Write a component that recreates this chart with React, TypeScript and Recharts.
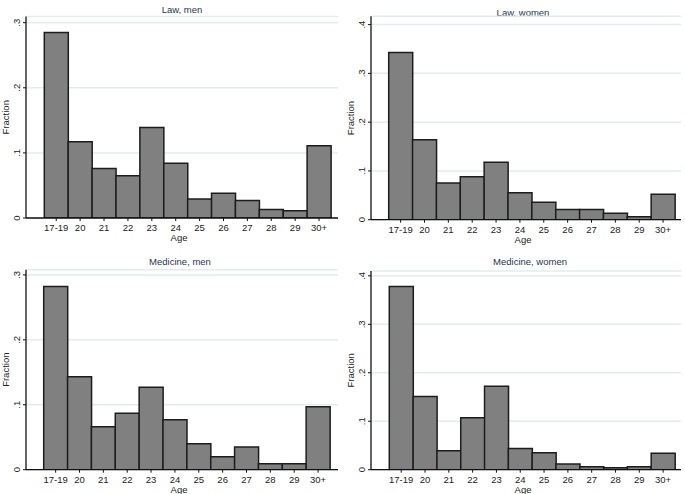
import { BarChart, Bar, XAxis, YAxis, CartesianGrid } from "recharts";

const ageLabels = ["17-19", "20", "21", "22", "23", "24", "25", "26", "27", "28", "29", "30+"];

const lawMen = [0.285, 0.117, 0.076, 0.065, 0.139, 0.084, 0.029, 0.038, 0.027, 0.013, 0.011, 0.111];
const lawWomen = [0.343, 0.164, 0.075, 0.088, 0.118, 0.055, 0.036, 0.021, 0.021, 0.013, 0.006, 0.052];
const medMen = [0.282, 0.143, 0.066, 0.087, 0.127, 0.077, 0.04, 0.02, 0.035, 0.009, 0.009, 0.097];
const medWomen = [0.378, 0.151, 0.039, 0.107, 0.172, 0.044, 0.035, 0.012, 0.006, 0.004, 0.006, 0.034];

const ticks3 = [0, 0.1, 0.2, 0.3];
const ticks4 = [0, 0.1, 0.2, 0.3, 0.4];

const FONT = "'Liberation Sans', Arial, sans-serif";
const BAR_FILL = "#808080";
const BAR_STROKE = "#1c1c1c";
const GRID = "#e3eced";

const fmtTick = (v: number) => (v === 0 ? "0" : "." + Math.round(v * 10));

const XTick = ({ x, y, payload }: any) => (
  <text x={x} y={y} dy={10} textAnchor="middle" fontSize={9.5} fill="#222" fontFamily={FONT}>
    {payload.value}
  </text>
);

const YTick = ({ x, y, payload }: any) => (
  <text
    x={x - 3}
    y={y}
    textAnchor="middle"
    fontSize={9.5}
    fill="#222"
    fontFamily={FONT}
    transform={`rotate(-90, ${x - 3}, ${y})`}
  >
    {fmtTick(payload.value)}
  </text>
);

interface PanelProps {
  title: string;
  values: number[];
  left: number;
  top: number;
  yWidth: number;
  plotTop: number;
  xHeight: number;
  right: number;
  yMax: number;
  ticks: number[];
  padL: number;
  padR: number;
  titleX: number;
  titleY: number;
  fracX: number;
}

const Panel = (p: PanelProps) => {
  const data = ageLabels.map((age, i) => ({ age, value: p.values[i] }));
  return (
    <div style={{ position: "absolute", left: p.left, top: p.top, width: 345, height: 247 }}>
      <div
        style={{
          position: "absolute",
          left: p.titleX,
          top: p.titleY,
          transform: "translate(-50%, -50%)",
          fontFamily: FONT,
          fontSize: 9.5,
          color: "#263553",
          whiteSpace: "nowrap",
          lineHeight: 1,
        }}
      >
        {p.title}
      </div>
      <BarChart
        width={345}
        height={247}
        data={data}
        barCategoryGap={0}
        barGap={0}
        margin={{ top: p.plotTop, right: p.right, bottom: 0, left: 0 }}
      >
        <CartesianGrid vertical={false} stroke={GRID} strokeWidth={1.5} />
        <XAxis
          dataKey="age"
          interval={0}
          height={p.xHeight}
          padding={{ left: p.padL, right: p.padR }}
          tickSize={3}
          tickMargin={0}
          tick={<XTick />}
          axisLine={{ stroke: "#111", strokeWidth: 1.3 }}
          tickLine={{ stroke: "#111" }}
          label={({ viewBox }: any) => (
            <text
              x={viewBox.x + viewBox.width / 2 - 3}
              y={viewBox.y + 23}
              textAnchor="middle"
              fontSize={9.5}
              fill="#222"
              fontFamily={FONT}
            >
              Age
            </text>
          )}
        />
        <YAxis
          width={p.yWidth}
          domain={[0, p.yMax]}
          ticks={p.ticks}
          allowDataOverflow
          tickSize={3}
          tickMargin={0}
          tick={<YTick />}
          axisLine={{ stroke: "#111", strokeWidth: 1.3 }}
          tickLine={{ stroke: "#111" }}
          label={({ viewBox }: any) => {
            const cx = p.fracX + 3.4;
            const cy = viewBox.y + viewBox.height / 2;
            return (
              <text
                x={cx}
                y={cy}
                textAnchor="middle"
                fontSize={9.5}
                fill="#222"
                fontFamily={FONT}
                transform={`rotate(-90, ${cx}, ${cy})`}
              >
                Fraction
              </text>
            );
          }}
        />
        <Bar dataKey="value" fill={BAR_FILL} stroke={BAR_STROKE} strokeWidth={1.5} isAnimationActive={false} />
      </BarChart>
    </div>
  );
};

export default function App() {
  return (
    <div style={{ position: "absolute", left: 0, top: 0, width: 685, height: 494, background: "#fff" }}>
      <Panel
        title="Law, men"
        values={lawMen}
        left={0}
        top={0}
        yWidth={26}
        plotTop={16.5}
        xHeight={29}
        right={7}
        yMax={0.3095}
        ticks={ticks3}
        padL={18.3}
        padR={7}
        titleX={182}
        titleY={10}
        fracX={6}
      />
      <Panel
        title="Law, women"
        values={lawWomen}
        left={340}
        top={0}
        yWidth={31}
        plotTop={16.3}
        xHeight={27.3}
        right={4}
        yMax={0.417}
        ticks={ticks4}
        padL={17.7}
        padR={6}
        titleX={183}
        titleY={12.5}
        fracX={10.7}
      />
      <Panel
        title="Medicine, men"
        values={medMen}
        left={0}
        top={247}
        yWidth={26}
        plotTop={22.7}
        xHeight={24.3}
        right={7}
        yMax={0.308}
        ticks={ticks3}
        padL={17.7}
        padR={8}
        titleX={180}
        titleY={15}
        fracX={6}
      />
      <Panel
        title="Medicine, women"
        values={medWomen}
        left={340}
        top={247}
        yWidth={31}
        plotTop={24}
        xHeight={24.3}
        right={4}
        yMax={0.41}
        ticks={ticks4}
        padL={18.3}
        padR={6}
        titleX={190}
        titleY={15}
        fracX={10.7}
      />
    </div>
  );
}
